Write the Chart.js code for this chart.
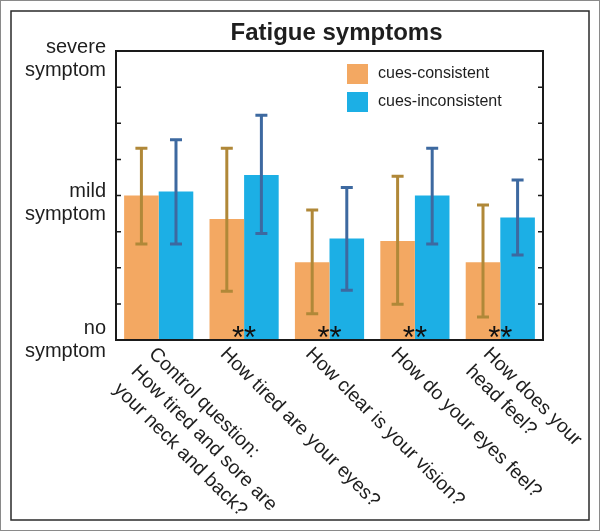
<!DOCTYPE html>
<html>
<head>
<meta charset="utf-8">
<script src="https://cdn.jsdelivr.net/npm/chart.js@4/dist/chart.umd.min.js"></script>
<style>
  html, body { margin: 0; padding: 0; background: #fff; }
  canvas { display: block; }
</style>
</head>
<body>
<canvas id="fatigueChart" width="600" height="531"></canvas>
<script>
// categories (x axis labels, one array of lines per question)
const categories = [
    ['Control question:', 'How tired and sore are', 'your neck and back?'],
    ['How tired are your eyes?'],
    ['How clear is your vision?'],
    ['How do your eyes feel?'],
    ['How does your', 'head feel?']
];
const seriesNames = ['cues-consistent', 'cues-inconsistent'];

// means and error bar ends (0 = no symptom, 8 = severe)
const consistentMean = [4.0, 3.35, 2.15, 2.74, 2.15];
const consistentLow = [2.66, 1.35, 0.73, 0.99, 0.64];
const consistentHigh = [5.31, 5.31, 3.6, 4.53, 3.74];
const inconsistentMean = [4.11, 4.57, 2.81, 4.0, 3.39];
const inconsistentLow = [2.66, 2.95, 1.38, 2.66, 2.35];
const inconsistentHigh = [5.54, 6.22, 4.22, 5.31, 4.43];
const significance = ['', '**', '**', '**', '**'];

// y axis
const yMin = 0;
const yMax = 8;
const yTickMarks = [1, 2, 3, 4, 5, 6, 7];
const yLabelValues = [0, 4, 8];
const yLabelTexts = [['no', 'symptom'], ['mild', 'symptom'], ['severe', 'symptom']];

const FONT = "'Liberation Sans', Arial, Helvetica, sans-serif";
const barColors = ['#f3a862', '#1cafe5'];
const errColors = ['#b08838', '#3d69a0'];
const textColor = '#1e1e1e';

const decorPlugin = {
    id: 'decor',
    beforeDraw(chart) {
        const ctx = chart.ctx;
        ctx.save();
        ctx.fillStyle = '#fff';
        ctx.fillRect(0, 0, chart.width, chart.height);
        // outer grey border + inner frame
        ctx.strokeStyle = '#8a8a8a';
        ctx.lineWidth = 1;
        ctx.strokeRect(0.5, 0.5, chart.width - 1, chart.height - 1);
        ctx.strokeStyle = '#2a2a2a';
        ctx.lineWidth = 1.5;
        ctx.strokeRect(11, 11, chart.width - 22, chart.height - 22);
        ctx.restore();
    },
    afterDatasetsDraw(chart) {
        const ctx = chart.ctx;
        const y = chart.scales.y;
        const lows = [consistentLow, inconsistentLow];
        const highs = [consistentHigh, inconsistentHigh];
        ctx.save();
        [0, 1].forEach(d => {
            const meta = chart.getDatasetMeta(d);
            ctx.strokeStyle = errColors[d];
            ctx.lineWidth = 3;
            meta.data.forEach((bar, i) => {
                const yl = y.getPixelForValue(lows[d][i]);
                const yh = y.getPixelForValue(highs[d][i]);
                ctx.beginPath();
                ctx.moveTo(bar.x, yl);
                ctx.lineTo(bar.x, yh);
                ctx.moveTo(bar.x - 6, yl);
                ctx.lineTo(bar.x + 6, yl);
                ctx.moveTo(bar.x - 6, yh);
                ctx.lineTo(bar.x + 6, yh);
                ctx.stroke();
            });
        });
        // significance stars
        ctx.fillStyle = '#111';
        ctx.font = '31px ' + FONT;
        ctx.textAlign = 'center';
        ctx.textBaseline = 'alphabetic';
        significance.forEach((s, i) => {
            if (!s) return;
            const x = chart.scales.x.getPixelForValue(i);
            ctx.fillText(s, x, y.getPixelForValue(0) + 8);
        });
        ctx.restore();
    },
    afterDraw(chart) {
        const ctx = chart.ctx;
        const a = chart.chartArea;
        const xs = chart.scales.x;
        const ys = chart.scales.y;
        ctx.save();
        // plot box
        ctx.strokeStyle = '#1a1a1a';
        ctx.lineWidth = 2;
        ctx.strokeRect(a.left, a.top, a.right - a.left, a.bottom - a.top);
        // inward tick marks on both sides
        ctx.lineWidth = 1.5;
        ctx.beginPath();
        yTickMarks.forEach(v => {
            const py = ys.getPixelForValue(v);
            ctx.moveTo(a.left, py);
            ctx.lineTo(a.left + 5, py);
            ctx.moveTo(a.right, py);
            ctx.lineTo(a.right - 5, py);
        });
        ctx.stroke();

        // y labels
        ctx.fillStyle = textColor;
        ctx.font = '20px ' + FONT;
        ctx.textAlign = 'right';
        ctx.textBaseline = 'middle';
        yLabelValues.forEach((v, i) => {
            const py = ys.getPixelForValue(v);
            const first = py + (v === yMin ? -12 : -4);
            yLabelTexts[i].forEach((line, k) => {
                ctx.fillText(line, a.left - 10, first + k * 23);
            });
        });

        // rotated x labels
        ctx.font = '19.5px ' + FONT;
        ctx.textAlign = 'left';
        ctx.textBaseline = 'top';
        categories.forEach((lines, i) => {
            const px = xs.getPixelForValue(i) - 14 + (lines.length - 1) * 7;
            ctx.save();
            ctx.translate(px, a.bottom + 4);
            ctx.rotate(Math.PI / 4);
            lines.forEach((line, k) => ctx.fillText(line, 0, k * 25));
            ctx.restore();
        });

        // title
        ctx.font = 'bold 24px ' + FONT;
        ctx.textAlign = 'center';
        ctx.textBaseline = 'alphabetic';
        ctx.fillText('Fatigue symptoms', (a.left + a.right) / 2 + 7, 40);

        // legend
        ctx.font = '16px ' + FONT;
        ctx.textAlign = 'left';
        ctx.textBaseline = 'middle';
        seriesNames.forEach((name, d) => {
            const top = a.top + 13 + d * 28;
            ctx.fillStyle = barColors[d];
            ctx.fillRect(a.right - 196, top, 21, 20);
            ctx.fillStyle = textColor;
            ctx.fillText(name, a.right - 165, top + 10);
        });
        ctx.restore();
    }
};

new Chart(document.getElementById('fatigueChart'), {
    type: 'bar',
    data: {
        labels: categories.map(c => c.join(' ')),
        datasets: [
            {
                label: seriesNames[0],
                data: consistentMean,
                backgroundColor: barColors[0],
                borderWidth: 0,
                categoryPercentage: 0.81,
                barPercentage: 1.0
            },
            {
                label: seriesNames[1],
                data: inconsistentMean,
                backgroundColor: barColors[1],
                borderWidth: 0,
                categoryPercentage: 0.81,
                barPercentage: 1.0
            }
        ]
    },
    options: {
        responsive: false,
        animation: false,
        devicePixelRatio: 1,
        layout: { padding: { left: 116, right: 57, top: 51, bottom: 191 } },
        plugins: {
            legend: { display: false },
            tooltip: { enabled: false },
            title: { display: false }
        },
        scales: {
            x: { display: false },
            y: { display: false, min: yMin, max: yMax }
        }
    },
    plugins: [decorPlugin]
});
</script>
</body>
</html>
